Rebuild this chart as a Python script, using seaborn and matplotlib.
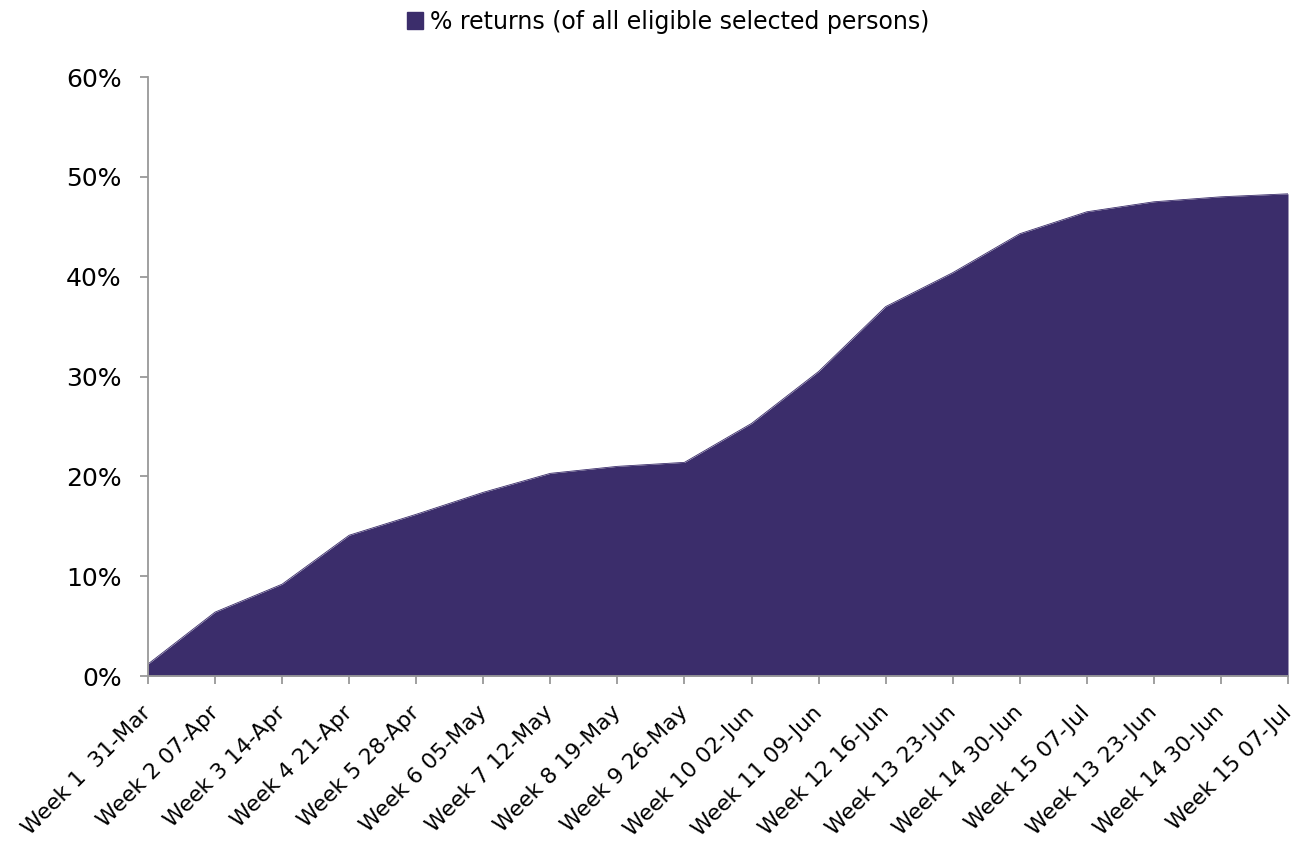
import matplotlib
matplotlib.use("Agg")
import matplotlib.pyplot as plt
import seaborn as sns
import numpy as np
import pandas as pd
from matplotlib.ticker import PercentFormatter
from matplotlib.patches import Patch

categories = ["Week 1  31-Mar", "Week 2 07-Apr", "Week 3 14-Apr", "Week 4 21-Apr",
              "Week 5 28-Apr", "Week 6 05-May", "Week 7 12-May", "Week 8 19-May",
              "Week 9 26-May", "Week 10 02-Jun", "Week 11 09-Jun", "Week 12 16-Jun",
              "Week 13 23-Jun", "Week 14 30-Jun", "Week 15 07-Jul", "Week 13 23-Jun",
              "Week 14 30-Jun", "Week 15 07-Jul"]
returns_pct = [1.2, 6.4, 9.2, 14.1, 16.2, 18.4, 20.3, 21.0, 21.4, 25.3,
               30.5, 37.0, 40.4, 44.3, 46.5, 47.5, 48.0, 48.3]
series_name = "% returns (of all eligible selected persons)"
y_ticks = [0, 10, 20, 30, 40, 50, 60]

color = "#3B2D6B"
sns.set_style("white")
plt.rcParams['font.family'] = ['DejaVu Sans']
plt.rcParams['text.color'] = 'black'

df = pd.DataFrame({"pos": np.arange(len(categories)), "val": returns_pct})

fig = plt.figure(figsize=(13.12, 8.46), dpi=100)
ax = fig.add_axes([148/1312, 1-676/846, (1288-148)/1312, (676-77)/846])

sns.lineplot(data=df, x="pos", y="val", color=color, linewidth=0.6, ax=ax)
ax.fill_between(df["pos"], 0, df["val"], color=color, linewidth=0)

ax.set_xlim(0, len(categories) - 1)
ax.set_ylim(0, 60)
ax.set_yticks(y_ticks)
ax.yaxis.set_major_formatter(PercentFormatter(decimals=0))
ax.set_xticks(df["pos"])
ax.set_xticklabels(categories, rotation=45, ha="right", va="center",
                   rotation_mode="anchor")
ax.set_xlabel("")
ax.set_ylabel("")

for side in ["top", "right"]:
    ax.spines[side].set_visible(False)
for side in ["left", "bottom"]:
    ax.spines[side].set_color("#999999")
    ax.spines[side].set_linewidth(1.3)
ax.tick_params(axis="both", which="major", direction="out", length=6, width=1.3,
               color="#999999", labelcolor="black", bottom=True, left=True)
ax.tick_params(axis="y", pad=13, labelsize=18)
ax.tick_params(axis="x", pad=18, labelsize=15.8)

fig.legend(handles=[Patch(facecolor=color, edgecolor=color, label=series_name)],
           loc="center", bbox_to_anchor=(668/1312, 1-22/846), frameon=False,
           fontsize=17, handlelength=0.7, handleheight=0.7, handletextpad=0.3,
           labelcolor="black")

fig.savefig("out.png", dpi=100)
